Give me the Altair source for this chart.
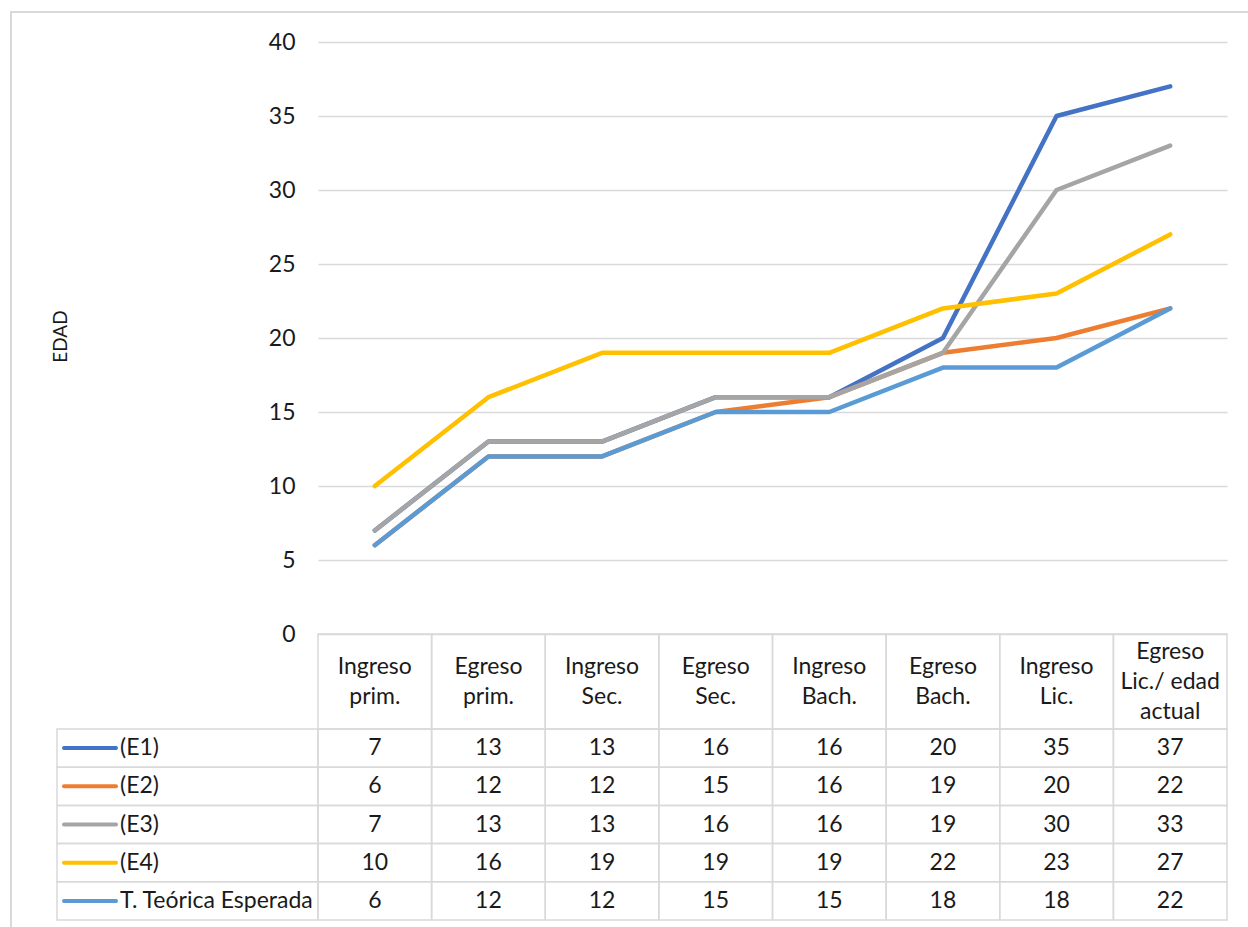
import altair as alt
import pandas as pd

# Education stages (x categories); "\n" splits the header text into lines
categories = [
    "Ingreso\nprim.",
    "Egreso\nprim.",
    "Ingreso\nSec.",
    "Egreso\nSec.",
    "Ingreso\nBach.",
    "Egreso\nBach.",
    "Ingreso\nLic.",
    "Egreso\nLic./ edad\nactual",
]

series_names = ["(E1)", "(E2)", "(E3)", "(E4)", "T. Teórica Esperada"]

e1 = [7, 13, 13, 16, 16, 20, 35, 37]
e2 = [6, 12, 12, 15, 16, 19, 20, 22]
e3 = [7, 13, 13, 16, 16, 19, 30, 33]
e4 = [10, 16, 19, 19, 19, 22, 23, 27]
teorica = [6, 12, 12, 15, 15, 18, 18, 22]

series_colors = ["#4472C4", "#ED7D31", "#A5A5A5", "#FFC000", "#5B9BD5"]

y_ticks = [0, 5, 10, 15, 20, 25, 30, 35, 40]

# ---- tables built from the lists above ----
rows = []
for name, vals in zip(series_names, [e1, e2, e3, e4, teorica]):
    for i, (cat, v) in enumerate(zip(categories, vals)):
        rows.append({"serie": name, "etapa": cat, "idx": i, "edad": v})
df = pd.DataFrame(rows)
header_df = pd.DataFrame({
    "etapa": categories,
    "fila": ["hdr"] * len(categories),
    "nlineas": [c.count("\n") + 1 for c in categories],
})
names_df = pd.DataFrame({"serie": series_names})

# ---- layout (pixels, relative to the plot origin) ----
W = 909          # plot / table width
PLOT_H = 592     # height of the line plot
HDR_H = 95       # header row of the data table
BODY_H = 191     # five data rows
H = PLOT_H + HDR_H + BODY_H
LEFT_COL = -261  # left edge of the legend column of the table
LINE_H = 30      # line height of the header text

FONT = "Lato"
FS = 23
TXT = "#1a1a1a"
GRID = "#D9D9D9"

color = alt.Color(
    "serie:N",
    scale=alt.Scale(domain=series_names, range=series_colors),
    legend=None,
)

x_band = alt.X(
    "etapa:N",
    scale=alt.Scale(type="band", domain=categories, paddingInner=0, paddingOuter=0),
    axis=None,
)
x_point = alt.X(
    "etapa:N",
    scale=alt.Scale(type="point", domain=categories, padding=0.5),
    axis=None,
)
y_rows = alt.Y(
    "serie:N",
    scale=alt.Scale(
        type="band",
        domain=series_names,
        range=[PLOT_H + HDR_H, H],
        paddingInner=0,
        paddingOuter=0,
    ),
    axis=None,
)
y_hdr = alt.Y(
    "fila:N",
    scale=alt.Scale(
        type="band", domain=["hdr"], range=[PLOT_H, PLOT_H + HDR_H],
        paddingInner=0, paddingOuter=0,
    ),
    axis=None,
)

# outer frame of the chart
frame_v = alt.Chart(names_df).mark_rule(color=GRID, strokeWidth=2).encode(
    x=alt.value(-307), y=alt.value(-30), y2=alt.value(H + 40)
)
frame_h = alt.Chart(names_df).mark_rule(color=GRID, strokeWidth=2).encode(
    x=alt.value(-308), x2=alt.value(W + 40), y=alt.value(-30)
)

# data table: header cells + labels (each block of lines centred in its cell)
hdr_cells = alt.Chart(header_df).mark_rect(
    fill="white", fillOpacity=0, stroke=GRID, strokeWidth=1.5
).encode(x=x_band, y=y_hdr)


def header_text(n):
    return (
        alt.Chart(header_df)
        .transform_filter(alt.datum.nlineas == n)
        .mark_text(
            font=FONT, fontSize=FS, color=TXT, lineBreak="\n", lineHeight=LINE_H,
            baseline="middle", align="center", dy=-(n - 1) * LINE_H / 2,
        )
        .encode(x=x_band, y=y_hdr, text="etapa:N")
    )


hdr_text2 = header_text(2)
hdr_text3 = header_text(3)

# data table: value cells
body_cells = alt.Chart(df).mark_rect(
    fill="white", fillOpacity=0, stroke=GRID, strokeWidth=1.5
).encode(x=x_band, y=y_rows)
body_text = alt.Chart(df).mark_text(
    font=FONT, fontSize=FS, color=TXT, baseline="middle", align="center"
).encode(x=x_band, y=y_rows, text=alt.Text("edad:Q"))

# data table: legend column (key line + series name)
name_cells = alt.Chart(names_df).mark_rect(
    fill="white", fillOpacity=0, stroke=GRID, strokeWidth=1.5
).encode(x=alt.value(LEFT_COL), x2=alt.value(0), y=y_rows)
name_keys = alt.Chart(names_df).mark_rule(strokeWidth=4, strokeCap="round").encode(
    x=alt.value(-254), x2=alt.value(-202), y=y_rows, color=color
)
name_text = alt.Chart(names_df).mark_text(
    font=FONT, fontSize=FS, color=TXT, baseline="middle", align="left"
).encode(x=alt.value(-198), y=y_rows, text="serie:N")

# the age lines
lines = alt.Chart(df).mark_line(
    strokeWidth=4.5, strokeCap="round", strokeJoin="round"
).encode(
    x=x_point,
    y=alt.Y(
        "edad:Q",
        scale=alt.Scale(domain=[0, 40], range=[PLOT_H, 0], nice=False, zero=True),
        axis=alt.Axis(
            values=y_ticks,
            grid=True,
            gridColor=GRID,
            gridWidth=1.3,
            domain=False,
            ticks=False,
            labelPadding=23,
            labelFont=FONT,
            labelFontSize=FS,
            labelColor=TXT,
            title="EDAD",
            titleFont=FONT,
            titleFontSize=FS - 4,
            titleFontWeight="normal",
            titleColor=TXT,
            titleAngle=-90,
            titleX=-258,
            titleY=294,
            titleAlign="center",
            titleBaseline="middle",
        ),
    ),
    color=color,
    order=alt.Order("idx:Q"),
)

chart = (
    alt.layer(
        frame_v, frame_h,
        hdr_cells, hdr_text2, hdr_text3,
        name_cells, name_keys, name_text,
        body_cells, body_text,
        lines,
    )
    .resolve_scale(x="independent", y="independent")
    .properties(
        width=W,
        height=H,
        autosize=alt.AutoSizeParams(type="none"),
        padding={"left": 318, "top": 42, "right": 21, "bottom": 7},
        background="white",
    )
    .configure_view(strokeWidth=0)
)

chart.save("out.html", embed_options={"renderer": "svg", "actions": False})
